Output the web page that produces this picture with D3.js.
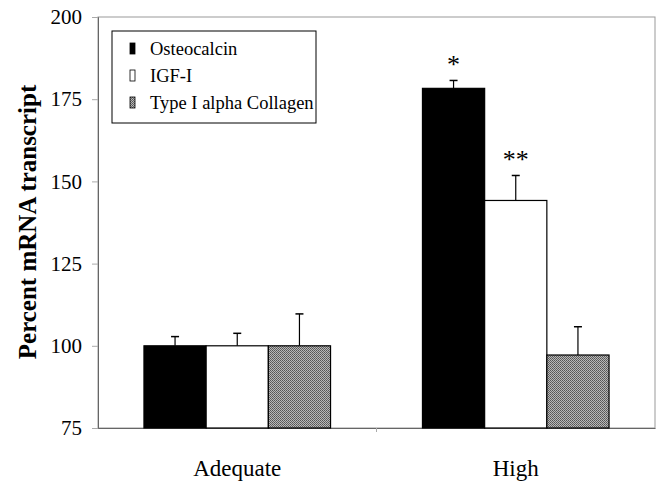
<!DOCTYPE html>
<html>
<head>
<meta charset="utf-8">
<script src="https://cdn.jsdelivr.net/npm/d3@7"></script>
<style>
  body { margin: 0; background: #fff; }
  text { font-family: "Liberation Serif", "Times New Roman", serif; }
</style>
</head>
<body>
<div id="chart"></div>
<script>
const groups = ["Adequate", "High"];
const series = ["Osteocalcin", "IGF-I", "Type I alpha Collagen"];
const osteocalcin = [100, 178.3];
const igf1 = [100, 144.2];
const collagen = [100, 97.2];
const osteocalcinErr = [2.8, 2.4];
const igf1Err = [3.8, 7.6];
const collagenErr = [9.7, 8.6];
// significance marks per series, per group
const marks = [["", "*"], ["", "**"], ["", ""]];
const yTicks = [75, 100, 125, 150, 175, 200];

const values = [osteocalcin, igf1, collagen];
const errors = [osteocalcinErr, igf1Err, collagenErr];

const width = 658, height = 483;
const margin = {top: 17, right: 3, bottom: 55, left: 98};

const svg = d3.select("#chart").append("svg")
    .attr("width", width)
    .attr("height", height);

let defs = svg.append("defs");
let pat = defs.append("pattern")
    .attr("id", "dots")
    .attr("width", 2)
    .attr("height", 2)
    .attr("patternUnits", "userSpaceOnUse");
pat.append("rect").attr("width", 2).attr("height", 2).attr("fill", "#b8b8b8");
pat.append("rect").attr("width", 1).attr("height", 1).attr("fill", "#555");
pat.append("rect").attr("x", 1).attr("y", 1).attr("width", 1).attr("height", 1).attr("fill", "#666");

const fills = ["#000", "#fff", "url(#dots)"];

let x0 = d3.scaleBand()
    .domain(groups)
    .range([margin.left, width - margin.right]);

let x1 = d3.scaleBand()
    .domain(series)
    .range([0, x0.bandwidth() * 0.67]);

let y = d3.scaleLinear()
    .domain([75, 200])
    .range([height - margin.bottom, margin.top]);

// frame
svg.append("rect")
    .attr("x", margin.left)
    .attr("y", margin.top)
    .attr("width", width - margin.left - margin.right)
    .attr("height", height - margin.top - margin.bottom)
    .attr("fill", "none")
    .attr("stroke", "#999")
    .attr("stroke-width", 1);

// y axis
let yAxis = svg.append("g")
    .attr("transform", "translate(" + margin.left + ",0)")
    .call(d3.axisLeft(y).tickValues(yTicks).tickSize(6).tickPadding(10));
yAxis.select(".domain").attr("stroke", "#666");
yAxis.selectAll(".tick line").attr("stroke", "#aaa");
yAxis.selectAll("text")
    .attr("font-size", 21)
    .attr("fill", "#000")
    .style("font-family", "Liberation Serif, serif");

// x axis
let xAxis = svg.append("g")
    .attr("transform", "translate(0," + (height - margin.bottom) + ")")
    .call(d3.axisBottom(x0).tickSize(0).tickPadding(32));
xAxis.select(".domain").attr("stroke", "#666");
xAxis.selectAll("text")
    .attr("font-size", 23)
    .attr("fill", "#000")
    .style("font-family", "Liberation Serif, serif");
// separator tick between categories
svg.append("line")
    .attr("x1", x0("High")).attr("x2", x0("High"))
    .attr("y1", height - margin.bottom)
    .attr("y2", height - margin.bottom + 4)
    .attr("stroke", "#aaa");

// bars
let offset = (x0.bandwidth() - x1.range()[1]) / 2;
series.forEach(function(s, si) {
    groups.forEach(function(g, gi) {
        let bx = x0(g) + offset + x1(s);
        let v = values[si][gi];
        let e = errors[si][gi];
        let cx = bx + x1.bandwidth() / 2;
        svg.append("line")
            .attr("x1", cx).attr("x2", cx)
            .attr("y1", y(v)).attr("y2", y(v + e))
            .attr("stroke", "#000").attr("stroke-width", 1.2);
        svg.append("line")
            .attr("x1", cx - 4).attr("x2", cx + 4)
            .attr("y1", y(v + e)).attr("y2", y(v + e))
            .attr("stroke", "#000").attr("stroke-width", 1.5);
        svg.append("rect")
            .attr("x", bx)
            .attr("y", y(v))
            .attr("width", x1.bandwidth())
            .attr("height", y(75) - y(v))
            .attr("fill", fills[si])
            .attr("stroke", "#000")
            .attr("stroke-width", 1.2);
        if (marks[si][gi]) {
            svg.append("text")
                .attr("x", cx)
                .attr("y", y(v + e) - 7)
                .attr("text-anchor", "middle")
                .attr("font-size", 26)
                .text(marks[si][gi]);
        }
    });
});

// y label
svg.append("text")
    .attr("transform", "translate(36,222) rotate(-90)")
    .attr("text-anchor", "middle")
    .attr("font-size", 25)
    .attr("font-weight", "bold")
    .text("Percent mRNA transcript");

// legend
let legend = svg.append("g").attr("transform", "translate(112,31)");
legend.append("rect")
    .attr("width", 204)
    .attr("height", 92)
    .attr("fill", "#fff")
    .attr("stroke", "#000")
    .attr("stroke-width", 1);
series.forEach(function(s, i) {
    let ly = 17.5 + i * 27;
    legend.append("rect")
        .attr("x", 18)
        .attr("y", ly - 5.5)
        .attr("width", 5)
        .attr("height", 11)
        .attr("fill", fills[i])
        .attr("stroke", "#000")
        .attr("stroke-width", 0.8);
    legend.append("text")
        .attr("x", 38)
        .attr("y", ly + 6.5)
        .attr("font-size", 18.5)
        .text(s);
});
</script>
</body>
</html>
